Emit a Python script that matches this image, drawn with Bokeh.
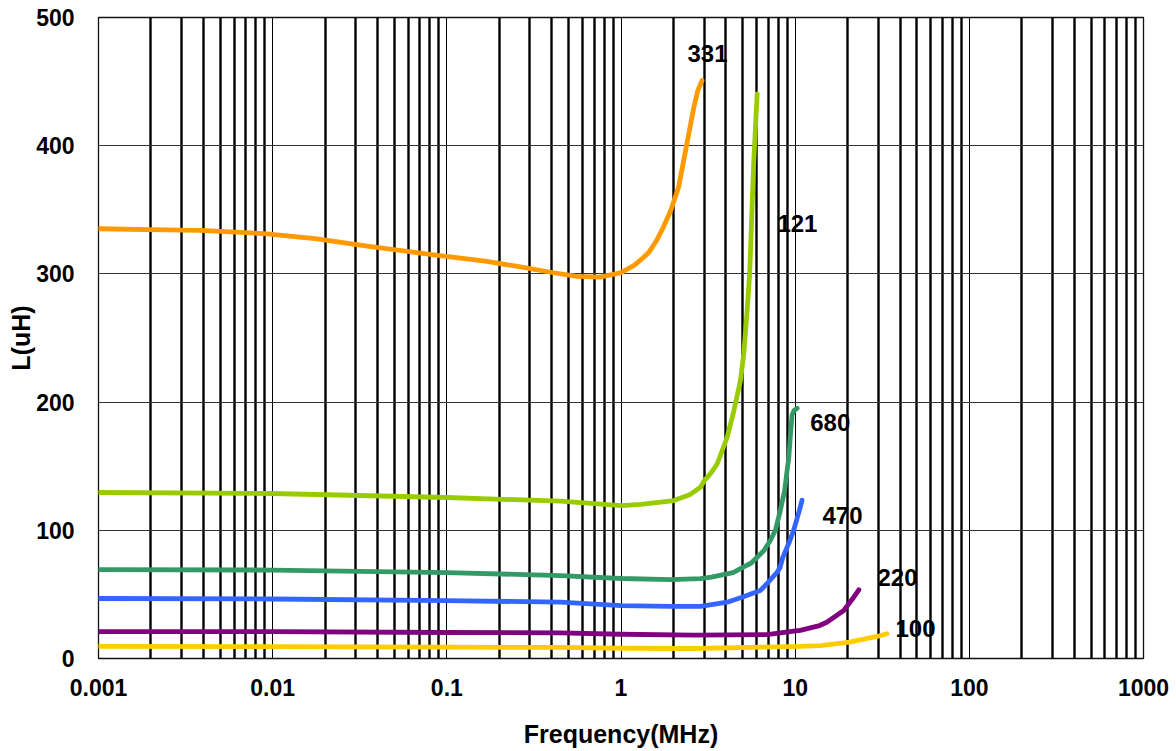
from bokeh.plotting import figure
from bokeh.models import Range1d, FixedTicker, CustomJSTickFormatter, ColumnDataSource
from bokeh.core.properties import value
from bokeh.embed import file_html
from bokeh.resources import INLINE

# ---------------- data ----------------
x_ticks = [0.001, 0.01, 0.1, 1, 10, 100, 1000]
x_tick_labels = ["0.001", "0.01", "0.1", "1", "10", "100", "1000"]
y_ticks = [0, 100, 200, 300, 400, 500]

f_331 = [0.001, 0.00194, 0.00385, 0.0093, 0.018, 0.0349, 0.0842, 0.17, 0.25, 0.41,
         0.56, 0.76, 1.0, 1.19, 1.35, 1.45, 1.6, 1.75, 1.93, 2.14, 2.29, 2.45, 2.62, 2.76, 2.92]
L_331 = [335.2, 334.6, 333.9, 331.3, 327.4, 321.6, 314.9, 309.7, 306.0, 300.9,
         298.0, 297.5, 301.0, 306.6, 313.0, 317.0, 326.0, 336.4, 349.5, 367.6, 388.5, 409.3, 430.0, 443.0, 450.9]

f_121 = [0.001, 0.01, 0.1, 0.3, 0.45, 1.0, 1.3, 2.01, 2.5, 2.86, 3.01, 3.3, 3.57, 4.07, 4.45,
         4.85, 5.07, 5.3, 5.48, 5.6, 5.79, 6.05]
L_121 = [129.5, 128.7, 125.6, 123.5, 122.7, 119.3, 120.2, 123.2, 128.0, 133.6, 138.8, 145.0, 151.9, 172.6, 193.4,
         216.8, 237.7, 271.5, 300.0, 336.4, 388.5, 440.5]

f_680 = [0.001, 0.01, 0.1, 0.45, 1.0, 1.94, 2.86, 3.3, 4.4, 5.07, 5.6, 6.6, 7.2, 7.7,
         8.2, 8.7, 9.19, 9.4, 9.6, 9.85, 10.26]
L_680 = [69.4, 69.0, 67.0, 64.7, 62.4, 61.5, 62.3, 63.5, 67.0, 71.5, 74.5, 84.0, 92.0, 100.0,
         115.0, 131.0, 157.0, 175.0, 190.0, 193.5, 195.2]

f_470 = [0.001, 0.01, 0.1, 0.45, 1.0, 1.94, 2.86, 4.07, 5.0, 6.3, 6.9, 7.89, 8.2, 8.5,
         9.2, 9.8, 10.7, 10.95]
L_470 = [46.8, 46.4, 45.2, 43.9, 41.3, 40.6, 40.6, 43.9, 48.0, 53.0, 58.5, 67.3, 71.2, 79.0,
         90.0, 100.0, 118.0, 123.5]

f_220 = [0.001, 0.01, 0.1, 0.45, 1.0, 2.63, 6.9, 9.8, 10.7, 13.8, 15.2, 19.0, 21.7, 23.2]
L_220 = [21.0, 21.0, 20.3, 20.0, 18.9, 18.3, 18.7, 21.3, 22.0, 25.7, 28.3, 37.4, 47.8, 53.6]

f_100 = [0.001, 0.01, 0.1, 0.45, 1.0, 2.63, 10.7, 14.0, 20.5, 29.5, 33.7]
L_100 = [9.4, 9.3, 8.8, 8.6, 8.0, 7.8, 9.4, 10.1, 12.7, 17.2, 19.3]

label_text = ["331", "121", "680", "470", "220", "100"]
label_f = [3.14, 10.3, 15.9, 18.7, 38.7, 49.1]
label_L = [472.3, 339.3, 184.0, 111.8, 63.2, 23.4]

series = [
    (f_331, L_331, "#FF9900"),
    (f_121, L_121, "#99CC00"),
    (f_680, L_680, "#339966"),
    (f_470, L_470, "#3366FF"),
    (f_220, L_220, "#800080"),
    (f_100, L_100, "#FFCC00"),
]

# ---------------- figure ----------------
p = figure(width=1176, height=751, x_axis_type="log",
           x_range=Range1d(0.001, 1000), y_range=Range1d(0, 500),
           output_backend="svg", toolbar_location=None,
           min_border_left=98, min_border_right=33, min_border_top=17, min_border_bottom=93)

p.background_fill_color = "white"
p.border_fill_color = "white"
p.outline_line_color = "#111111"
p.outline_line_width = 1.3

minor = [t * k for t in x_ticks[:-1] for k in range(2, 10)]
xt = FixedTicker(ticks=x_ticks, minor_ticks=minor)
p.xaxis.ticker = xt
p.xgrid.ticker = xt
yt = FixedTicker(ticks=y_ticks)
p.yaxis.ticker = yt
p.ygrid.ticker = yt

p.xaxis.formatter = CustomJSTickFormatter(
    args=dict(tick_vals=x_ticks, tick_labels=x_tick_labels),
    code="""
    for (let i = 0; i < tick_vals.length; i++) {
        if (Math.abs(tick_vals[i] - tick) <= Math.abs(tick) * 1e-6) return tick_labels[i];
    }
    return "";
    """)

p.xgrid.grid_line_color = "black"
p.xgrid.grid_line_width = 1
p.xgrid.minor_grid_line_color = "black"
p.xgrid.minor_grid_line_width = 2.4
p.ygrid.grid_line_color = "#333333"
p.ygrid.grid_line_width = 1

for ax in (p.xaxis, p.yaxis):
    ax.major_tick_line_color = None
    ax.minor_tick_line_color = None
    ax.axis_line_color = None
    ax.major_label_text_font = "Liberation Sans"
    ax.major_label_text_font_style = "bold"
    ax.major_label_text_font_size = "23px"
    ax.major_label_text_color = "black"
    ax.axis_label_text_font = "Liberation Sans"
    ax.axis_label_text_font_style = "bold"
    ax.axis_label_text_font_size = "25px"
    ax.axis_label_text_color = "black"

p.xaxis.axis_label = "Frequency(MHz)"
p.yaxis.axis_label = "L(uH)"
p.xaxis.major_label_standoff = 14
p.xaxis.axis_label_standoff = 21
p.yaxis.major_label_standoff = 18
p.yaxis.axis_label_standoff = -2

for f, L, c in series:
    p.line(f, L, line_color=c, line_width=4.8, line_join="round", line_cap="round")

src = ColumnDataSource(dict(x=label_f, y=label_L, t=label_text))
p.text(x="x", y="y", text="t", source=src, text_align="center", text_baseline="middle",
       text_font=value("Liberation Sans"), text_font_style="bold", text_font_size="24px",
       text_color="black")

open("out.html", "w").write(file_html(p, INLINE))
